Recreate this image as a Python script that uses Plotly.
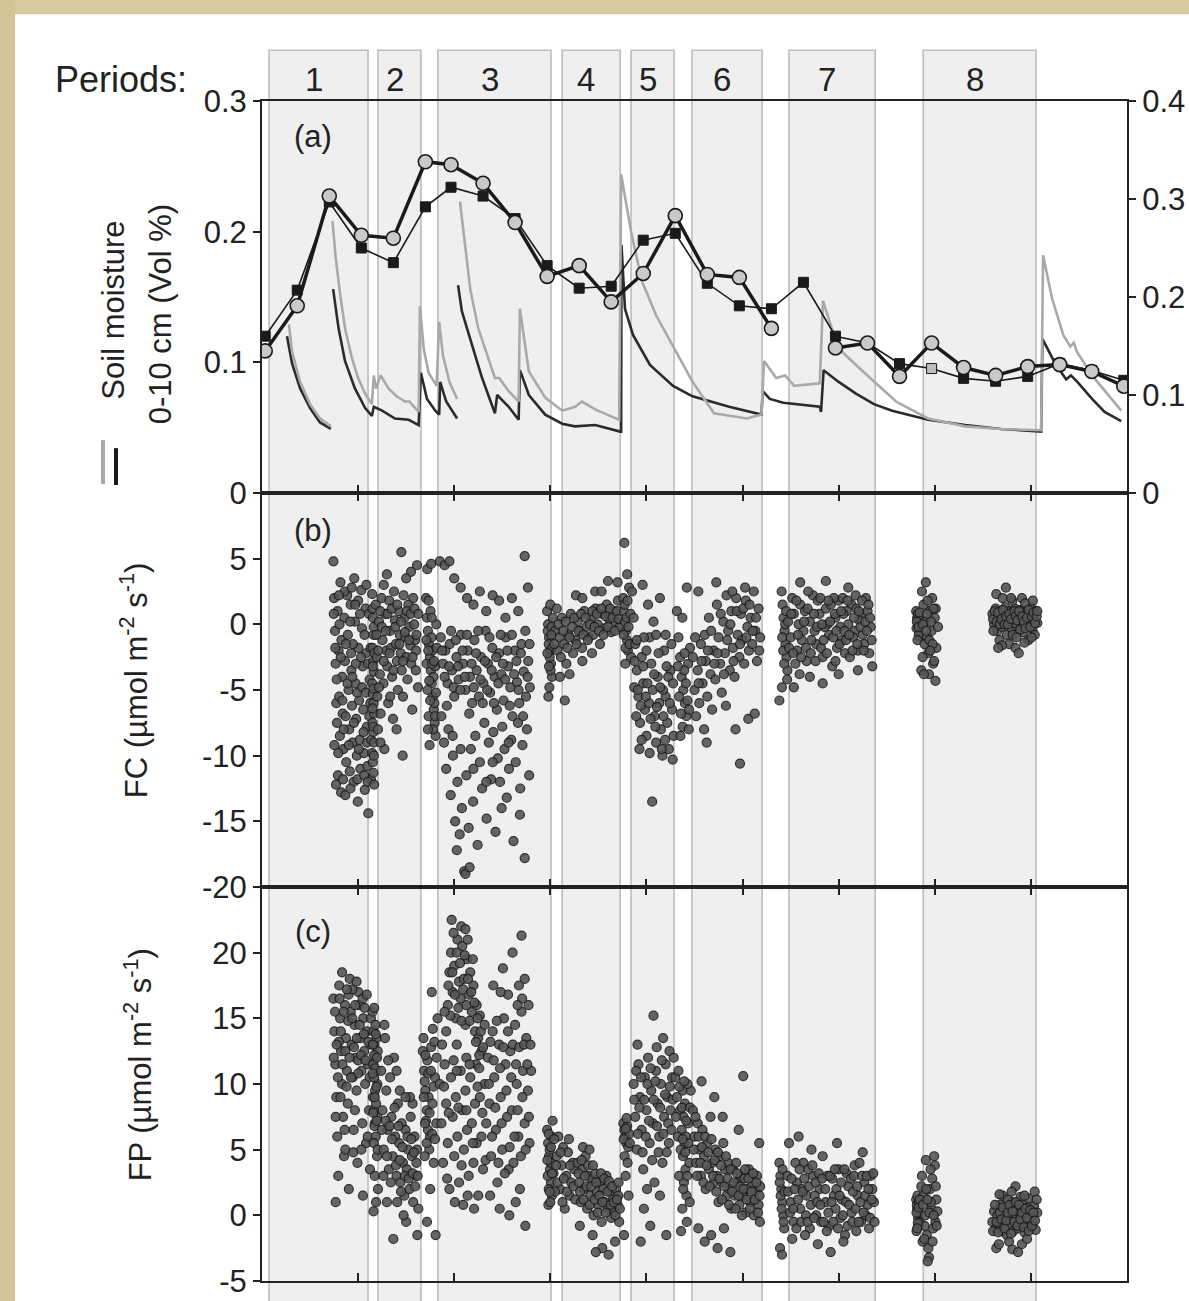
import plotly.graph_objects as go

# ---------------- data ----------------
# x unit: day of the observation season (axis 0-270, ticks every 30 days)
period_names = ["1", "2", "3", "4", "5", "6", "7", "8"]
period_start = [2.2, 36.2, 54.9, 93.7, 115.2, 134.2, 164.5, 206.4]
period_end = [33.1, 49.6, 90.2, 111.8, 128.6, 156.1, 191.4, 241.6]

# (a) soil moisture 0-10 cm, left axis (None = gap in record)
sm_black_day = [7.8, 9.4, 11.9, 15.0, 18.1, 21.5, None,
                22.2, 23.9, 25.9, 29.0, 32.2, 34.3, 34.9, 37.5, 41.5, 45.8, 48.9, 49.6, 51.5, 54.1, 55.3, 55.6, 57.5, 60.9, None,
                61.2, 62.4, 65.6, 68.7, 72.7, 73.4, 77.0, 80.1, 80.5, 83.3, 88.4, 93.7, 97.7, 104.0, 111.8,
                112.1, 112.2, 113.3, 115.8, 121.1, 128.3, 134.4, 145.8, 155.9, 156.3, 158.5, 162.7, 174.1, 174.5,
                175.3, 180.0, 185.4, 191.0, 196.7, 207.9, 219.5, 230.7, 243.2, 243.6, 247.6, 251.0, 252.5, 254.5,
                259.1, 263.0, 268.2]
sm_black_val = [0.120, 0.099, 0.080, 0.065, 0.054, 0.049, None,
                0.156, 0.126, 0.101, 0.080, 0.065, 0.059, 0.066, 0.063, 0.057, 0.056, 0.052, 0.092, 0.072, 0.063, 0.060, 0.085, 0.070, 0.057, None,
                0.159, 0.139, 0.113, 0.088, 0.061, 0.075, 0.066, 0.056, 0.094, 0.075, 0.060, 0.053, 0.051, 0.052, 0.047,
                0.047, 0.190, 0.141, 0.121, 0.098, 0.082, 0.074, 0.066, 0.060, 0.078, 0.072, 0.069, 0.066, 0.062,
                0.094, 0.085, 0.076, 0.068, 0.063, 0.056, 0.052, 0.049, 0.047, 0.118, 0.099, 0.087, 0.090, 0.085,
                0.072, 0.062, 0.055]
sm_gray_day = [8.4, 9.4, 11.9, 15.0, 18.1, 21.5, None,
               22.0, 23.0, 24.5, 26.0, 28.0, 30.0, 32.2, 34.3, 34.9, 35.6, 37.0, 39.5, 42.0, 44.6, 46.0, 48.9, 49.3, 50.5,
               52.0, 54.5, 55.3, 56.5, 58.5, 60.9, None,
               61.8, 63.4, 65.0, 67.5, 71.0, 72.7, 74.0, 77.0, 80.1, 80.5, 83.3, 88.4, 93.7, 97.7, 99.9, 104.0, 111.5,
               112.1, 115.2, 118.6, 123.0, 128.6, 134.4, 141.1, 151.4, 155.9, 156.7, 160.5, 163.3, 166.1, 174.1,
               175.1, 179.8, 185.4, 191.1, 197.9, 207.9, 219.5, 230.7, 243.2, 243.8, 246.6, 250.1, 252.3, 253.4,
               254.4, 259.1, 268.2]
sm_gray_val = [0.129, 0.108, 0.085, 0.068, 0.057, 0.051, None,
               0.208, 0.180, 0.150, 0.125, 0.104, 0.088, 0.076, 0.068, 0.090, 0.080, 0.090, 0.080, 0.074, 0.070, 0.070, 0.062, 0.143, 0.110,
               0.092, 0.082, 0.131, 0.105, 0.085, 0.072, None,
               0.223, 0.190, 0.156, 0.126, 0.100, 0.088, 0.088, 0.078, 0.070, 0.141, 0.093, 0.073, 0.063, 0.066, 0.070, 0.064, 0.056,
               0.244, 0.200, 0.162, 0.136, 0.111, 0.085, 0.061, 0.057, 0.060, 0.101, 0.088, 0.090, 0.082, 0.084,
               0.147, 0.111, 0.098, 0.085, 0.070, 0.057, 0.051, 0.049, 0.048, 0.182, 0.149, 0.121, 0.112, 0.115,
               0.108, 0.090, 0.063]

# (a) 10-day values, right axis
ten_day = [1, 11, 21, 31, 41, 51, 59, 69, 79, 89, 99, 109, 119, 129, 139, 149, 159, 169, 179, 189, 199,
           209, 219, 229, 239, 249, 259, 269]
circle_val = [0.145, 0.191, 0.303, 0.263, 0.260, 0.338, 0.335, 0.316, 0.276, 0.221, 0.232, 0.195, 0.224,
              0.283, 0.223, 0.220, 0.168, None, 0.148, 0.153, 0.119, 0.153, 0.128, 0.120, 0.129, 0.131, 0.124, 0.109]
square_val = [0.160, 0.207, 0.297, 0.250, 0.235, 0.292, 0.312, 0.303, 0.280, 0.232, 0.209, 0.211, 0.258,
              0.265, 0.214, 0.191, 0.188, 0.215, 0.160, 0.153, 0.132, 0.127, 0.117, 0.114, 0.119, 0.132, 0.125, 0.115]
square_open = [False] * 21 + [True] + [False] * 6

# (b) FC  (day, value)
fc_1 = [(22.3, 4.8), (22.5, 2.0), (22.8, -0.5), (23.0, -3.0), (23.2, -6.0), (23.4, -7.5), (23.6, 1.0), (23.9, -2.0),
        (24.1, -5.5), (24.3, -8.5), (24.5, 3.2), (24.8, -1.2), (25.0, -4.0), (25.2, -6.8), (25.4, -9.5), (25.7, 0.5),
        (25.9, -2.8), (26.1, -7.0), (26.3, -10.5), (26.6, 2.2), (26.8, -0.8), (27.0, -5.0), (27.2, -8.0), (27.4, -11.2),
        (27.7, 1.5), (27.9, -3.5), (28.1, -6.2), (28.3, -9.0), (28.6, -12.0), (28.8, 3.5), (29.0, 0.2), (29.2, -4.5),
        (29.4, -7.2), (29.6, -10.0), (29.9, -13.5), (30.1, -1.8), (30.3, -5.8), (30.5, -8.8), (30.7, -11.0), (31.0, 2.6),
        (31.2, -0.3), (31.4, -3.2), (31.6, -6.5), (31.8, -9.8), (32.1, -12.6), (32.3, 1.2), (32.5, -2.2), (32.7, -7.8),
        (32.9, -10.8), (33.2, -14.4), (33.4, 0.8), (33.6, -4.2), (33.8, -6.0), (34.0, -11.8), (22.6, -9.2),
        (23.7, -11.5), (24.7, -12.8), (26.0, -13.0), (28.4, -1.5), (30.0, 1.8)]
fc_1b = [(22.4, 0.8), (22.9, -1.8), (23.3, -4.2), (23.8, -9.8), (24.2, 0.0), (24.6, -2.5), (25.1, -5.8), (25.5, -8.0),
         (25.8, 2.5), (26.2, -1.5), (26.7, -4.5), (27.1, -9.2), (27.5, 0.2), (27.8, -2.2), (28.2, -4.0), (28.7, -7.5),
         (29.1, 1.5), (29.3, -3.0), (29.7, -5.2), (30.2, -9.5), (30.6, 0.8), (30.9, -2.5), (31.3, -4.8), (31.7, -8.2),
         (32.0, -0.8), (32.4, -5.2), (32.8, -9.0), (33.1, -3.0), (33.5, -7.0), (33.9, -1.8), (34.1, -8.8),
         (23.1, -12.2), (25.3, -11.8), (27.6, -12.5), (29.8, -11.8), (31.9, -11.5), (33.0, -12.0), (24.0, 2.2),
         (28.0, 2.8), (32.6, 3.0)]
fc_2 = [(34.4, 2.3), (34.6, 0.5), (34.8, -0.8), (34.5, -1.8), (34.7, -2.8), (34.9, -3.6), (34.4, -4.5), (34.6, -5.3),
        (34.8, -6.0), (35.0, -6.8), (34.5, -7.5), (34.7, -8.2), (34.9, -9.0), (34.4, -9.8), (34.6, -10.5), (34.8, -11.3),
        (35.0, -12.2), (34.5, 1.2), (34.9, -0.2), (34.6, -3.2), (34.8, -4.9), (34.5, -6.4), (34.7, -7.8), (34.9, -10.0),
        (35.1, -2.2)]
fc_3 = [(35.5, 1.5), (35.8, -2.5), (36.0, -5.5), (36.2, -8.0), (36.5, 0.2), (36.8, -3.8), (37.0, -6.8), (37.3, 2.0),
        (37.6, -1.2), (37.9, -4.5), (38.2, -9.5), (38.5, 0.8), (38.8, -2.0), (39.1, -3.2), (39.4, -6.0), (39.7, 1.8),
        (40.0, -0.5), (40.3, -1.8), (40.6, -4.0), (40.9, -7.2), (41.2, 2.5), (41.5, 0.3), (41.8, -1.5), (42.1, -2.8),
        (42.4, -5.0), (42.7, 1.0), (43.0, -0.8), (43.3, -2.2), (43.6, -3.5), (43.9, -10.0), (44.2, 2.2), (44.5, 0.5),
        (44.8, -1.0), (45.1, -2.5), (45.4, -4.2), (45.7, 1.5), (46.0, -0.2), (46.3, -1.6), (46.6, -3.0), (46.9, -6.5),
        (47.2, 2.0), (47.5, 0.0), (47.8, -1.2), (48.1, -2.0), (48.4, 4.5), (48.7, -4.8), (39.0, 3.8), (43.5, 5.5),
        (46.5, 4.0), (37.0, -9.0)]
fc_3b = [(35.7, -0.8), (36.3, -2.0), (36.9, 1.0), (37.4, -0.2), (38.0, -2.8), (38.6, -0.5), (39.2, 0.8), (39.8, -2.2),
         (40.5, 1.2), (41.0, -3.5), (41.6, -0.2), (42.2, 1.5), (42.9, -1.5), (43.4, 0.2), (44.0, -2.8), (44.6, -0.6),
         (45.2, 1.0), (45.9, -1.2), (46.4, 0.8), (47.0, -2.5), (47.6, 1.2), (48.2, -0.8), (48.8, 0.8), (36.5, -4.8),
         (40.0, -5.5), (44.0, -5.5), (48.0, -3.5), (38.0, 3.0), (45.0, 3.5), (42.0, -8.0)]
fc_4 = [(51.2, 2.0), (51.5, 0.5), (51.8, -0.5), (52.1, -1.5), (52.4, -2.5), (52.7, -3.5), (53.0, -4.5), (53.3, -5.5),
        (53.6, -6.5), (53.9, -7.5), (54.2, -8.5), (51.4, -3.0), (51.7, -5.0), (52.0, -7.0), (52.3, -9.2), (52.6, 1.0),
        (52.9, -1.0), (53.2, -2.0), (53.5, -4.0), (53.8, -6.0), (54.1, -3.2), (54.4, 0.0), (52.2, -4.3), (53.4, -8.0),
        (54.6, -1.8), (51.6, 4.2), (52.8, 4.6), (51.3, -1.2), (51.9, -2.0), (52.5, -5.8), (53.1, -3.0), (53.7, -2.8),
        (54.3, -5.2), (52.0, 1.8), (53.0, 0.5), (54.0, -7.0), (51.8, -8.0)]
fc_5 = [(55.5, 4.8), (57.0, 4.5), (58.5, 4.8), (60.0, 3.5), (62.0, 2.8), (64.0, 2.0), (66.0, 1.5), (68.0, 2.5),
        (70.0, 1.0), (72.0, 2.2), (74.0, 1.8), (76.0, 0.5), (78.0, 2.0), (80.0, 1.0), (82.0, 5.2), (83.0, 2.8),
        (55.8, -1.0), (56.5, -3.0), (57.2, -2.0), (57.9, -4.5), (58.6, -1.5), (59.3, -3.5), (60.0, -5.5), (60.7, -2.5),
        (61.4, -4.2), (62.1, -0.8), (62.8, -3.0), (63.5, -5.0), (64.2, -2.0), (64.9, -4.0), (65.6, -6.0), (66.3, -1.2),
        (67.0, -3.5), (67.7, -5.5), (68.4, -2.5), (69.1, -4.5), (69.8, -0.5), (70.5, -3.0), (71.2, -5.2), (71.9, -1.8),
        (72.6, -4.0), (73.3, -6.5), (74.0, -2.2), (74.7, -3.8), (75.4, -5.8), (76.1, -1.0), (76.8, -3.2), (77.5, -4.8),
        (78.2, -7.0), (78.9, -2.0), (79.6, -4.4), (80.3, -6.0), (81.0, -1.5), (81.7, -3.6), (82.4, -5.5), (83.1, -2.8),
        (83.6, -4.8), (56.0, -7.0), (56.8, -9.0), (57.5, -11.0), (58.2, -8.0), (58.9, -13.0), (59.6, -10.0),
        (60.3, -15.0), (61.0, -12.0), (61.7, -16.0), (62.4, -14.0), (63.1, -18.8), (63.8, -11.5), (64.5, -15.5),
        (65.2, -9.5), (65.9, -13.5), (66.6, -8.5), (67.3, -16.8), (68.0, -10.5), (68.7, -12.5), (69.4, -7.5),
        (70.1, -14.8), (70.8, -9.0), (71.5, -11.8), (72.2, -8.2), (72.9, -15.8), (73.6, -10.2), (74.3, -12.0),
        (75.0, -7.8), (75.7, -9.5), (76.4, -13.2), (77.1, -11.0), (77.8, -8.8), (78.5, -16.5), (79.2, -10.5),
        (79.9, -7.5), (80.6, -12.5), (81.3, -9.2), (82.0, -17.8), (82.7, -8.0), (83.4, -11.5), (63.5, -19.0),
        (64.8, -18.5), (60.8, -17.2)]
fc_5b = [(56.2, -2.0), (57.0, -4.0), (57.7, -6.2), (58.4, -3.2), (59.0, -0.5), (59.8, -4.8), (60.5, -1.2), (61.2, -3.2),
         (61.9, -5.0), (62.6, -2.0), (63.3, -4.0), (64.0, -0.8), (64.7, -6.8), (65.4, -3.0), (66.1, -4.8), (66.8, -2.2),
         (67.5, -0.5), (68.2, -4.2), (68.9, -6.0), (69.6, -2.8), (70.3, -5.0), (71.0, -1.0), (71.7, -3.5), (72.4, -6.0),
         (73.1, -2.5), (73.8, -4.5), (74.5, -0.8), (75.2, -3.0), (75.9, -4.2), (76.6, -2.0), (77.3, -6.2), (78.0, -0.8),
         (78.7, -3.8), (79.4, -2.8), (80.1, -5.0), (80.8, -2.2), (81.5, -7.0), (82.2, -0.5), (82.9, -4.0), (83.5, -1.5),
         (59.5, -8.5), (62.0, -9.5), (66.0, -11.0), (70.0, -12.0), (74.8, -14.0), (80.5, -14.5), (77.0, -9.0),
         (72.0, -10.5)]
fc_6 = [(89.0, 1.0), (89.3, 0.0), (89.6, -1.0), (89.9, -2.0), (90.2, -3.0), (90.5, -4.0), (89.2, -0.5), (89.5, -1.5),
        (89.8, -2.5), (90.1, -3.5), (90.4, -0.2), (89.7, -4.8), (90.0, 1.5), (90.6, -1.8), (89.4, -5.5),
        (91.5, -0.5), (92.2, -2.0), (92.9, -1.0), (93.6, 0.5), (94.3, -1.5), (95.0, -3.0), (95.7, -0.8), (96.4, 0.8),
        (97.1, -2.2), (97.8, -1.2), (98.5, 0.2), (99.2, -0.5), (99.9, -1.8), (100.6, 1.0), (101.3, -0.2), (102.0, -1.0),
        (102.7, 0.5), (103.4, -0.8), (104.1, 1.2), (104.8, 0.0), (105.5, -1.5), (106.2, 0.8), (106.9, -0.3),
        (107.6, 1.5), (108.3, 0.4), (109.0, -0.6), (109.7, 1.0), (110.4, 0.2), (111.1, 1.8), (111.6, -0.2),
        (93.0, -4.0), (96.0, -3.8), (100.0, -2.8), (104.0, 2.5), (108.0, 3.3), (92.0, 1.2), (98.0, 2.2), (94.5, -5.8),
        (111.0, 3.2), (103.0, -2.2)]
fc_6b = [(89.1, -2.2), (89.6, -3.2), (90.3, -0.8), (90.8, 0.5), (91.2, -1.5), (92.5, 0.0), (93.3, -2.5), (94.0, -0.5),
         (94.8, 0.2), (95.3, -1.8), (96.0, -1.0), (96.8, -0.2), (97.5, 0.5), (98.2, -1.5), (98.8, -0.5), (99.6, 0.8),
         (100.3, -0.8), (101.0, 0.5), (101.7, -1.2), (102.4, 0.0), (103.1, 1.0), (103.8, -0.2), (104.5, 0.8),
         (105.2, -0.5), (105.9, 1.2), (106.6, -0.8), (107.3, 0.6), (108.0, -0.2), (108.7, 1.2), (109.4, 0.5),
         (110.1, -0.5), (110.8, 1.0), (111.4, 0.4), (106.0, 2.5), (100.0, 2.0)]
fc_7 = [(112.8, 2.0), (113.0, 1.0), (113.3, 0.2), (113.6, -0.5), (113.9, -1.2), (114.2, -2.0), (112.9, -0.8),
        (113.2, 1.5), (113.5, -1.8), (113.8, 0.5), (114.1, 1.8), (114.4, -0.2), (114.7, -1.5), (115.0, 0.8),
        (113.1, 6.2), (114.0, 3.8), (114.6, 2.8), (113.4, -3.0), (115.2, -2.5)]
fc_8 = [(115.5, 2.5), (116.0, 0.5), (116.5, -1.5), (117.0, -3.5), (117.5, -5.5), (118.0, -7.5), (118.5, -2.5),
        (119.0, -4.5), (119.5, -6.5), (120.0, -8.5), (120.5, 1.5), (121.0, -1.0), (121.5, -3.0), (122.0, -5.0),
        (122.5, -7.0), (123.0, -9.0), (123.5, -4.0), (124.0, -6.0), (124.5, -8.0), (125.0, -10.0), (125.5, -2.0),
        (126.0, -5.5), (126.5, -7.5), (127.0, -9.5), (127.5, -3.5), (128.0, -6.5), (128.5, -8.5), (116.2, -4.8),
        (117.8, -9.5), (119.2, -1.0), (120.8, -6.0), (122.2, 0.2), (123.8, -2.2), (125.2, -5.0), (126.8, -4.0),
        (128.2, -10.3), (118.8, 3.0), (124.2, 2.0), (121.8, -13.5), (116.8, -7.0), (119.8, -5.5), (122.8, -7.8),
        (125.8, -8.8), (127.8, -1.5)]
fc_8b = [(116.3, -2.8), (117.3, -5.0), (118.2, -6.2), (119.0, -3.2), (120.3, -4.5), (121.3, -7.2), (122.4, -3.8),
         (123.3, -6.3), (124.3, -4.8), (125.3, -7.0), (126.3, -3.2), (127.3, -6.0), (128.3, -4.5), (117.0, -1.2),
         (120.0, -2.0), (123.0, -0.8), (126.0, -0.8), (121.0, -9.8), (124.8, -9.5), (118.5, -8.8)]
fc_9 = [(129.5, 1.0), (130.0, -1.0), (130.5, -2.5), (131.0, -4.0), (131.5, -5.0), (132.0, -6.0), (132.5, -7.0),
        (133.0, -3.0), (130.2, -5.5), (130.8, -6.8), (131.3, -7.8), (131.8, -3.5), (132.3, -4.5), (132.8, -5.8),
        (133.3, -6.5), (129.8, -3.2), (131.2, 0.5), (132.6, 2.8), (133.6, -1.8), (130.6, -8.5), (131.9, -2.2),
        (133.2, -8.0)]
fc_10 = [(134.5, -2.5), (135.0, -5.0), (135.5, -7.0), (136.0, -3.5), (136.5, -6.0), (137.0, -1.5), (137.5, -4.5),
         (138.0, -8.0), (138.5, -2.8), (139.0, -5.5), (139.5, 0.5), (140.0, -3.8), (140.5, -6.5), (141.0, -2.0),
         (141.5, -4.2), (142.0, 1.5), (142.5, -1.0), (143.0, -3.0), (143.5, -5.2), (144.0, 0.2), (144.5, -2.2),
         (145.0, 2.2), (145.5, -0.5), (146.0, -3.5), (146.5, 1.0), (147.0, -1.8), (147.5, -4.0), (148.0, 2.0),
         (148.5, -0.8), (149.0, -2.5), (149.5, 0.8), (150.0, -1.2), (150.5, -3.0), (151.0, 1.8), (151.5, -0.2),
         (152.0, -2.0), (152.5, 0.5), (153.0, -1.5), (153.5, 2.5), (154.0, -0.5), (154.5, -2.8), (155.0, 1.2),
         (155.5, -1.0), (136.2, 2.5), (141.8, 3.2), (147.8, -8.0), (149.2, -10.6), (138.8, -9.0), (144.8, -6.2),
         (151.8, -7.2), (153.8, -6.8)]
fc_10b = [(135.2, -1.0), (136.3, -4.5), (137.2, -2.8), (138.2, -0.8), (139.2, -2.0), (140.2, -0.5), (141.2, -3.0),
          (142.2, -2.2), (143.2, 0.8), (144.2, -3.8), (145.2, -1.2), (146.2, 0.0), (147.2, -2.8), (148.2, 1.0),
          (149.2, -1.5), (150.2, 1.2), (151.2, -1.0), (152.2, 1.5), (153.2, -0.5), (154.2, 0.5), (155.2, -2.0),
          (150.8, 2.8), (146.8, 2.5)]
fc_11 = [(162.2, 2.5), (162.5, 1.5), (162.8, 0.5), (163.1, -0.5), (163.4, -1.5), (163.7, -2.5), (164.0, -3.5),
         (162.4, -1.0), (162.7, -2.0), (163.0, -3.0), (163.3, 0.0), (163.6, 1.0), (163.9, -4.2), (162.3, -4.8),
         (164.2, 0.2), (165.0, -1.0), (166.0, 0.8), (167.0, -2.0), (168.0, 1.5), (169.0, -0.5), (170.0, -2.8),
         (171.0, 0.2), (172.0, 2.2), (173.0, -1.5), (174.0, 0.8), (175.0, -2.5), (176.0, 1.2), (177.0, -0.8),
         (178.0, -3.2), (179.0, 0.5), (180.0, 1.8), (181.0, -1.2), (182.0, -2.2), (183.0, 0.0), (184.0, 1.5),
         (185.0, -0.5), (186.0, -2.0), (187.0, 0.8), (188.0, -1.5), (189.0, 1.0), (190.0, -0.2), (166.5, -3.0),
         (168.5, -1.2), (170.5, 2.5), (172.5, -0.5), (174.5, -1.8), (176.5, 0.0), (178.5, 2.0), (180.5, -0.2),
         (182.5, 1.0), (184.5, -1.0), (186.5, 0.3), (188.5, 2.0), (165.5, 2.0), (167.5, 0.0), (169.5, 1.0),
         (171.5, -1.2), (173.5, 1.8), (175.5, -0.2), (177.5, 1.5), (179.5, -1.8), (181.5, 0.8), (183.5, -2.5),
         (185.5, 1.2), (187.5, -0.8), (189.5, -2.2), (171.0, -4.0), (175.0, -4.5), (180.0, -3.8), (186.0, -3.5),
         (168.0, 3.2), (176.0, 3.3), (190.5, -3.2), (161.5, -5.8), (166.0, -4.8)]
fc_11b = [(164.5, -1.8), (165.2, 0.8), (165.8, -2.2), (166.8, 1.8), (167.3, -0.8), (168.3, -2.5), (169.2, 0.2),
          (169.8, -1.8), (170.3, 1.2), (171.3, -2.2), (172.3, 0.8), (172.8, -2.8), (173.3, -0.2), (174.3, 2.0),
          (174.8, 0.0), (175.3, -1.2), (176.3, -2.2), (176.8, 1.8), (177.3, 0.2), (178.3, -1.0), (178.8, 0.8),
          (179.3, -0.5), (180.3, -1.5), (180.8, 1.0), (181.3, 2.0), (181.8, -0.5), (182.3, -1.2), (182.8, 1.8),
          (183.3, -0.8), (184.3, -2.0), (184.8, 0.5), (185.3, 2.2), (185.8, -1.5), (186.3, 1.0), (186.8, -0.2),
          (187.3, 1.8), (187.8, -2.0), (188.3, 0.2), (188.8, -0.5), (189.3, 1.5), (189.8, 0.5), (190.3, -1.2),
          (167.8, -3.8), (179.0, -2.8), (183.0, 2.8)]
fc_12 = [(204.2, 1.0), (204.5, 0.5), (204.8, 0.0), (205.1, -0.5), (205.4, -1.0), (204.3, -0.3), (204.7, 0.8),
         (205.0, -0.8), (205.3, 0.3), (204.6, -1.2), (206.0, 2.5), (206.5, 1.5), (207.0, 0.2), (207.5, -1.0),
         (208.0, -2.2), (208.5, 1.0), (209.0, -0.5), (209.5, -3.0), (210.0, 0.5), (210.5, -1.8), (206.2, -2.5),
         (207.2, 3.2), (208.2, -3.8), (209.2, 2.0), (210.2, -4.3), (211.0, -0.2), (206.8, -1.5), (208.8, 0.2),
         (207.8, 1.8), (209.8, -2.8), (205.8, -3.5), (204.4, 0.2), (204.9, -0.2), (205.2, 0.9), (206.3, 0.0),
         (207.3, -0.5), (208.3, -1.2), (209.3, -1.5), (210.3, 1.2), (206.6, -3.8), (209.6, 1.2), (207.6, 0.8),
         (208.6, -2.0)]
fc_13 = [(228.0, 0.8), (228.5, 0.0), (229.0, 1.2), (229.5, -0.5), (230.0, 0.5), (230.5, 1.0), (231.0, -0.2),
         (231.5, 0.7), (232.0, 1.3), (232.5, -0.8), (233.0, 0.3), (233.5, 1.0), (234.0, -0.3), (234.5, 0.6),
         (235.0, 1.2), (235.5, -0.1), (236.0, 0.8), (236.5, 0.2), (237.0, 1.1), (237.5, -0.6), (238.0, 0.5),
         (238.5, 1.0), (239.0, 0.0), (239.5, 0.7), (240.0, 1.3), (240.5, -0.4), (241.0, 0.4), (241.5, 1.0),
         (242.0, 0.1), (229.2, 2.3), (231.2, 2.0), (233.2, -1.5), (235.2, -1.8), (237.2, 2.0), (239.2, -1.2),
         (241.2, -0.8), (230.2, -1.2), (234.2, 1.8), (236.2, -2.2), (238.2, 1.6), (232.2, 2.8), (240.2, -1.0),
         (228.3, -0.5), (236.8, 0.9), (234.8, 0.1)]
fc_13b = [(228.2, 0.4), (228.7, 1.0), (229.3, 0.2), (229.8, 0.9), (230.3, 0.0), (230.8, 0.4), (231.3, 1.1),
          (231.8, 0.0), (232.3, 0.6), (232.8, 0.0), (233.3, 0.8), (233.8, 0.4), (234.3, -0.8), (234.9, 1.0),
          (235.3, 0.6), (235.8, 0.3), (236.3, 1.0), (236.7, -0.4), (237.3, 0.6), (237.8, 0.2), (238.3, -0.3),
          (238.8, 0.5), (239.3, 1.1), (239.8, -0.2), (240.3, 0.6), (240.8, 0.9), (241.3, 0.1), (241.8, 0.6),
          (231.0, -1.6), (238.0, -1.4), (233.8, 2.0), (229.8, -1.8), (240.6, 1.8), (235.5, -1.0), (242.0, 1.0)]

# (c) FP  (day, value)
fp_1 = [(22.3, 16.5), (22.6, 14.0), (22.9, 11.5), (23.2, 9.0), (23.5, 6.0), (23.8, 3.0), (24.1, 17.5), (24.4, 15.0),
        (24.7, 12.5), (25.0, 10.0), (25.3, 7.5), (25.6, 4.5), (25.9, 16.0), (26.2, 13.5), (26.5, 11.0), (26.8, 8.5),
        (27.1, 2.0), (27.4, 18.0), (27.7, 15.5), (28.0, 13.0), (28.3, 10.5), (28.6, 6.5), (28.9, 14.5), (29.2, 12.0),
        (29.5, 9.5), (29.8, 4.0), (30.1, 17.0), (30.4, 16.0), (30.7, 13.5), (31.0, 11.0), (31.3, 7.0), (31.6, 15.0),
        (31.9, 12.5), (32.2, 10.0), (32.5, 5.5), (32.8, 14.0), (33.1, 11.5), (33.4, 8.0), (33.7, 3.5), (34.0, 13.0),
        (23.0, 1.0), (26.0, 5.0), (29.0, 8.0), (31.5, 1.5), (25.0, 18.5), (27.0, 16.8), (24.0, 13.2), (28.2, 17.2),
        (30.0, 10.8), (32.0, 15.8)]
fp_1b = [(22.4, 12.0), (22.8, 15.5), (23.3, 13.0), (23.7, 10.5), (24.2, 16.5), (24.6, 14.0), (25.1, 11.5),
         (25.5, 15.5), (26.0, 12.5), (26.4, 9.8), (26.9, 14.8), (27.3, 12.0), (27.8, 10.5), (28.2, 15.0), (28.7, 12.8),
         (29.1, 16.0), (29.6, 13.5), (30.0, 11.8), (30.5, 14.5), (30.9, 12.2), (31.4, 16.5), (31.8, 13.8), (32.3, 11.8),
         (32.7, 16.8), (33.2, 13.2), (33.6, 10.5), (34.0, 15.0), (23.0, 7.5), (25.8, 6.5), (28.5, 4.8), (31.0, 5.0),
         (33.0, 6.0), (26.5, 17.2), (29.5, 17.8), (24.5, 9.0)]
fp_2 = [(34.5, 15.5), (34.8, 14.0), (35.1, 13.0), (35.4, 12.0), (35.7, 11.0), (36.0, 10.0), (34.6, 9.0), (34.9, 8.0),
        (35.2, 7.0), (35.5, 6.0), (35.8, 13.5), (36.1, 12.5), (34.7, 11.5), (35.0, 10.5), (35.3, 9.5), (35.6, 8.5),
        (35.9, 4.5), (36.2, 2.0), (34.8, 0.3), (35.4, 14.5), (36.0, 7.5), (35.2, 3.0), (34.6, 13.0), (35.0, 12.2),
        (35.3, 11.2), (35.7, 9.8), (34.7, 7.8), (35.1, 6.8), (35.5, 13.8), (35.9, 12.0), (34.6, 10.8), (35.2, 9.0),
        (35.8, 7.2), (34.9, 5.5), (35.6, 1.0), (36.1, 5.0), (35.0, 15.8)]
fp_3 = [(37.2, 11.0), (37.6, 8.0), (38.0, 5.0), (38.4, 13.5), (38.8, 9.5), (39.2, 6.5), (39.6, 3.5), (40.0, 10.5),
        (40.4, 7.5), (40.8, 4.5), (41.2, 12.0), (41.6, 6.0), (42.0, 3.0), (42.4, 8.5), (42.8, 5.5), (43.2, 2.5),
        (43.6, 7.0), (44.0, 4.0), (44.4, 1.5), (44.8, 6.5), (45.2, 3.5), (45.6, 5.0), (46.0, 2.0), (46.4, 7.5),
        (46.8, 4.5), (47.2, 1.0), (47.6, 6.0), (48.0, 3.0), (48.4, 5.0), (48.8, 0.5), (41.0, -1.8), (45.0, -0.5),
        (48.5, -1.5), (39.0, 1.0), (43.0, 9.5), (47.0, 8.5), (38.2, 14.5), (44.2, 0.0), (46.2, 9.0), (42.2, 1.0)]
fp_3b = [(37.4, 6.5), (37.9, 3.0), (38.6, 7.2), (39.0, 4.5), (39.8, 6.8), (40.2, 2.5), (40.6, 5.8), (41.4, 8.2),
         (41.8, 3.8), (42.6, 6.8), (43.0, 4.2), (43.4, 1.8), (43.8, 5.2), (44.6, 3.0), (45.4, 6.0), (45.8, 2.8),
         (46.6, 5.8), (47.0, 3.2), (47.4, 4.8), (47.8, 2.2), (48.2, 4.0), (48.6, 3.0), (39.4, 11.8), (42.0, 11.0),
         (44.8, 9.0)]
fp_4 = [(50.2, 12.5), (50.6, 11.0), (51.0, 9.5), (51.4, 8.0), (51.8, 6.5), (52.2, 5.0), (50.4, 13.5), (50.8, 10.2),
        (51.2, 7.2), (51.6, 11.8), (52.0, 9.0), (52.4, 6.0), (52.8, 12.8), (53.2, 8.5), (53.6, 4.0), (54.0, 10.5),
        (54.4, 7.0), (54.8, 15.0), (53.0, 17.0), (52.5, 2.0), (51.5, -0.5), (54.2, -1.5), (50.8, 4.5), (53.8, 13.2),
        (50.5, 9.0), (51.0, 12.2), (51.4, 5.5), (51.9, 10.8), (52.3, 7.8), (52.7, 11.0), (53.1, 6.2), (53.5, 9.8),
        (54.0, 5.8), (54.5, 12.0), (50.9, 7.0), (53.3, 14.2)]
fp_5 = [(58.0, 16.0), (58.5, 18.5), (59.0, 20.0), (59.5, 17.0), (60.0, 19.0), (60.5, 15.0), (61.0, 21.0),
        (61.5, 17.8), (62.0, 16.5), (62.5, 20.5), (63.0, 18.0), (63.5, 14.5), (64.0, 19.5), (64.5, 16.8), (65.0, 18.5),
        (65.5, 15.5), (66.0, 17.5), (66.5, 14.0), (67.0, 16.0), (67.5, 13.5), (68.0, 15.2), (68.5, 12.5), (59.2, 22.5),
        (62.2, 22.0), (64.2, 21.0), (60.8, 13.0), (63.8, 12.0), (66.8, 11.5), (57.5, 14.0),
        (55.5, 10.0), (56.0, 7.0), (56.5, 4.0), (57.0, 11.5), (57.5, 8.5), (58.0, 5.5), (58.5, 2.0), (59.0, 10.5),
        (59.5, 7.5), (60.0, 4.5), (60.5, 9.0), (61.0, 6.0), (61.5, 2.5), (62.0, 11.0), (62.5, 8.0), (63.0, 5.0),
        (63.5, 9.5), (64.0, 6.5), (64.5, 3.0), (65.0, 10.5), (65.5, 7.0), (66.0, 4.0), (66.5, 8.5), (67.0, 5.5),
        (67.5, 1.5), (68.0, 9.0), (68.5, 6.0), (69.0, 3.5), (69.5, 10.0), (70.0, 7.0), (56.2, 13.0), (62.8, 0.8),
        (66.2, 0.5), (60.2, 1.0)]
fp_5b = [(58.2, 17.5), (58.8, 15.2), (59.4, 18.5), (60.2, 16.8), (60.8, 20.0), (61.3, 15.8), (61.8, 19.2),
         (62.3, 14.8), (62.8, 17.2), (63.3, 19.8), (63.8, 16.0), (64.3, 18.0), (64.8, 14.8), (65.3, 17.0), (65.8, 19.5),
         (66.3, 16.2), (66.8, 13.2), (67.3, 15.0), (67.8, 12.2), (68.3, 14.0), (69.0, 12.8), (69.5, 14.5),
         (59.8, 21.5), (63.5, 21.8), (57.0, 15.5), (56.8, 9.8), (58.3, 7.8), (59.8, 11.8), (61.3, 8.2), (62.3, 3.8),
         (63.8, 8.0), (64.8, 11.5), (65.8, 5.5), (67.3, 9.8), (68.8, 7.8), (69.8, 4.2), (57.8, 2.8), (64.2, 1.5),
         (60.8, 11.0), (67.8, 11.2)]
fp_6 = [(70.5, 12.0), (71.0, 8.5), (71.5, 4.5), (72.0, 14.0), (72.5, 10.5), (73.0, 6.5), (73.5, 2.5), (74.0, 13.0),
        (74.5, 9.0), (75.0, 5.0), (75.5, 15.0), (76.0, 11.5), (76.5, 7.5), (77.0, 3.5), (77.5, 12.5), (78.0, 8.0),
        (78.5, 4.0), (79.0, 14.5), (79.5, 10.0), (80.0, 6.0), (80.5, 2.0), (81.0, 15.5), (81.5, 11.0), (82.0, 7.0),
        (82.5, 13.5), (83.0, 9.5), (83.5, 5.5), (84.0, 11.0), (72.2, 17.5), (75.2, 18.8), (78.2, 20.0), (81.2, 16.5),
        (83.2, 16.0), (74.2, 0.5), (79.2, 1.0), (82.2, -0.8), (81.0, 21.3), (71.2, 1.5), (80.2, 17.5), (77.2, 0.0)]
fp_6b = [(70.8, 10.0), (71.3, 13.2), (71.8, 6.0), (72.3, 11.8), (72.8, 8.2), (73.3, 14.8), (73.8, 4.0), (74.3, 11.2),
         (74.8, 7.0), (75.3, 12.8), (75.8, 3.2), (76.3, 9.5), (76.8, 14.0), (77.3, 5.2), (77.8, 10.5), (78.3, 13.0),
         (78.8, 6.0), (79.3, 11.5), (79.8, 8.0), (80.3, 12.8), (80.8, 4.5), (81.3, 9.0), (81.8, 13.0), (82.3, 5.0),
         (82.8, 11.5), (83.3, 7.5), (83.8, 13.0), (76.8, 16.8), (79.8, 16.0), (74.5, 17.0), (82.0, 18.0)]
fp_7 = [(89.0, 6.5), (89.3, 5.5), (89.6, 4.5), (89.9, 3.5), (90.2, 2.5), (90.5, 1.5), (89.2, 3.0), (89.5, 2.0),
        (89.8, 5.0), (90.1, 4.0), (90.4, 6.0), (89.4, 0.8), (90.0, 1.0), (91.0, 3.2), (92.0, 4.5), (93.0, 2.0),
        (94.0, 5.2), (95.0, 3.0), (96.0, 1.5), (97.0, 4.0), (92.5, 6.0), (94.5, 0.5), (96.5, 2.5), (91.5, 1.8),
        (97.5, 3.5), (90.7, 7.2), (95.5, 4.8), (93.5, 3.8), (89.1, 4.2), (89.5, 6.2), (89.8, 1.8), (90.2, 5.2),
        (90.5, 3.2), (91.2, 5.8), (92.2, 2.5), (93.2, 4.8), (94.2, 2.8), (95.2, 1.8), (96.2, 3.8), (97.2, 2.2),
        (91.8, 3.8), (93.8, 1.0), (95.8, 5.8), (97.8, 1.2)]
fp_8 = [(98.5, 4.0), (99.0, 2.5), (99.5, 1.0), (100.0, 3.5), (100.5, 2.0), (101.0, 4.5), (101.5, 0.5), (102.0, 3.0),
        (102.5, 1.5), (103.0, 2.8), (103.5, 0.0), (104.0, 3.2), (104.5, 1.8), (105.0, 0.8), (105.5, 2.5),
        (106.0, -0.5), (106.5, 2.0), (107.0, 1.0), (107.5, 3.0), (108.0, 0.5), (108.5, 1.8), (109.0, -0.2),
        (109.5, 1.2), (110.0, 0.3), (110.5, 2.0), (111.0, 0.8), (111.5, -0.5), (100.2, 5.2), (103.2, -1.5),
        (106.2, -2.5), (108.2, -3.0), (110.2, -2.0), (104.2, -2.8), (102.2, 5.0), (111.2, 1.5), (99.2, -0.8)]
fp_8b = [(98.8, 3.2), (99.3, 1.8), (99.8, 4.2), (100.3, 1.2), (100.8, 3.0), (101.3, 2.2), (101.8, 3.8), (102.3, 0.8),
         (102.8, 2.2), (103.3, 3.8), (103.8, 1.2), (104.3, 2.5), (104.8, 0.2), (105.3, 1.5), (105.8, 3.2),
         (106.3, 1.0), (106.8, 2.8), (107.3, 0.2), (107.8, 1.8), (108.3, 2.6), (108.8, 0.8), (109.3, 2.2),
         (109.8, 1.0), (110.3, 0.0), (110.8, 1.2), (111.3, 2.5), (111.7, 0.5)]
fp_9 = [(112.8, 7.0), (113.1, 6.5), (113.4, 6.0), (113.7, 5.5), (114.0, 6.8), (114.3, 5.2), (114.6, 6.2),
        (112.9, 5.8), (113.2, 4.5), (113.5, 3.0), (113.8, 7.4), (114.1, 4.0), (114.4, 1.5), (113.0, -1.5),
        (114.8, 5.5), (113.6, 6.6)]
fp_10 = [(116.0, 10.0), (116.5, 7.5), (117.0, 5.0), (117.5, 11.5), (118.0, 9.0), (118.5, 6.5), (119.0, 3.5),
         (119.5, 10.5), (120.0, 8.0), (120.5, 12.0), (121.0, 5.5), (121.5, 9.5), (122.0, 7.0), (122.5, 2.5),
         (123.0, 11.0), (123.5, 8.5), (124.0, 6.0), (124.5, 10.0), (125.0, 4.0), (125.5, 7.5), (126.0, 11.5),
         (126.5, 9.0), (127.0, 5.5), (127.5, 8.0), (128.0, 10.5), (119.2, 0.5), (121.2, -0.8), (124.2, 1.5),
         (126.2, -1.5), (117.2, 13.0), (122.2, 15.2), (123.2, 12.8), (125.2, 13.5), (127.2, 12.5), (120.2, 2.0),
         (118.2, -2.0)]
fp_10b = [(116.2, 8.8), (116.8, 11.0), (117.3, 6.2), (117.8, 8.2), (118.3, 10.5), (118.8, 4.8), (119.3, 8.8),
          (119.8, 6.0), (120.3, 10.0), (120.8, 7.2), (121.3, 11.2), (121.8, 4.2), (122.3, 8.8), (122.8, 10.2),
          (123.3, 6.8), (123.8, 4.8), (124.3, 8.2), (124.8, 11.8), (125.3, 6.2), (125.8, 9.2), (126.3, 4.8),
          (126.8, 7.0), (127.3, 9.8), (127.8, 6.5), (128.2, 8.8)]
fp_11 = [(128.5, 12.0), (129.0, 10.5), (129.5, 9.0), (130.0, 11.0), (130.5, 8.0), (131.0, 6.5), (131.3, 9.5),
         (131.6, 7.5), (131.9, 5.5), (132.2, 3.5), (132.5, 1.5), (131.4, 4.5), (131.7, 2.5), (132.0, 8.5),
         (132.3, 6.0), (132.6, -0.5), (131.2, 0.5), (133.0, 7.0), (133.4, 4.0), (133.8, 9.5), (130.2, 3.0),
         (129.8, 6.0), (132.8, 10.0), (133.5, 1.0), (130.8, -1.2), (129.2, 7.5), (130.3, 9.8), (130.7, 5.0),
         (131.1, 8.2), (131.5, 2.0), (131.8, 10.2), (132.1, 4.8), (132.4, 7.2), (132.7, 3.0), (133.1, 5.5),
         (133.6, 8.2), (131.3, 5.8)]
fp_12 = [(134.5, 8.0), (135.0, 6.0), (135.5, 4.0), (136.0, 7.0), (136.5, 5.0), (137.0, 3.0), (137.5, 6.5),
         (138.0, 4.5), (138.5, 2.0), (139.0, 5.5), (139.5, 3.5), (140.0, 7.5), (140.5, 4.0), (141.0, 2.5),
         (141.5, 5.0), (142.0, 3.0), (142.5, 1.0), (143.0, 4.5), (143.5, 2.5), (144.0, 5.5), (144.5, 3.5),
         (145.0, 1.5), (145.5, 4.0), (146.0, 2.0), (146.5, 0.5), (147.0, 3.5), (147.5, 1.5), (148.0, 4.0),
         (148.5, 2.5), (149.0, 0.8), (149.5, 3.0), (150.0, 1.5), (150.5, 2.8), (151.0, 0.2), (151.5, 2.0),
         (152.0, 3.5), (152.5, 1.0), (153.0, 2.5), (153.5, 0.0), (154.0, 1.8), (154.5, 3.0), (155.0, 0.8),
         (155.5, 2.2), (136.2, -1.0), (138.2, -2.0), (140.2, -1.5), (142.2, -2.5), (144.2, -1.0), (146.2, -2.8),
         (143.8, 7.5), (148.8, 6.5), (150.2, 10.6), (155.2, 5.5), (141.2, 9.0), (137.2, 10.2), (155.4, -0.5)]
fp_12b = [(134.8, 5.0), (135.3, 7.5), (135.8, 3.0), (136.3, 6.0), (136.8, 4.0), (137.3, 5.2), (137.8, 2.5),
          (138.3, 6.0), (138.8, 3.8), (139.3, 4.8), (139.8, 2.2), (140.3, 5.8), (140.8, 3.0), (141.3, 4.2),
          (141.8, 1.8), (142.3, 4.8), (142.8, 2.8), (143.3, 3.8), (143.6, 1.2), (144.3, 2.2), (144.8, 4.5),
          (145.3, 2.8), (145.8, 0.8), (146.3, 3.5), (146.8, 1.8), (147.3, 2.5), (147.8, 0.5), (148.3, 3.2),
          (148.8, 1.5), (149.3, 2.2), (149.8, 0.0), (150.3, 2.0), (150.8, 3.5), (151.3, 1.2), (151.8, 2.8),
          (152.3, 0.5), (152.8, 1.8), (153.3, 3.2), (153.8, 1.2), (154.3, 2.5), (154.8, 0.2), (155.3, 1.5)]
fp_13 = [(161.5, 4.0), (161.8, 3.0), (162.1, 2.0), (162.4, 1.0), (162.7, 0.0), (163.0, -1.0), (161.6, 2.5),
         (161.9, 1.5), (162.2, 0.5), (162.5, 3.5), (162.8, -0.5), (163.1, 1.8), (161.7, -2.5), (162.3, -3.0),
         (164.0, 3.0), (165.0, 1.0), (166.0, -0.5), (167.0, 2.5), (168.0, 0.5), (169.0, 4.0), (170.0, 1.5),
         (171.0, -1.0), (172.0, 3.0), (173.0, 0.0), (174.0, 2.0), (175.0, 4.5), (176.0, 1.0), (177.0, -0.8),
         (178.0, 2.8), (179.0, 0.5), (180.0, 3.5), (181.0, 1.2), (182.0, -1.5), (183.0, 2.2), (184.0, 0.2),
         (185.0, 3.8), (186.0, 1.5), (187.0, -0.5), (188.0, 2.5), (189.0, 0.8), (190.0, 3.0), (191.0, 1.0),
         (164.5, 5.5), (166.5, 4.0), (168.5, 2.0), (170.5, 3.5), (172.5, 1.5), (174.5, -0.5), (176.5, 3.0),
         (178.5, 1.5), (180.5, -0.2), (182.5, 3.2), (184.5, 1.8), (186.5, 4.0), (188.5, 0.0), (190.5, 2.0),
         (165.5, -1.8), (169.5, -1.5), (173.5, -2.2), (177.5, -2.8), (181.5, -2.0), (185.5, -1.2), (189.5, -1.0),
         (167.5, 6.0), (179.5, 5.5), (171.5, 5.0), (187.5, 4.8)]
fp_13b = [(164.2, 1.8), (164.8, 0.2), (165.3, 2.8), (165.8, 0.5), (166.3, 2.0), (166.8, -1.0), (167.3, 1.2),
          (167.8, 3.5), (168.3, -0.5), (168.8, 1.8), (169.3, 2.8), (169.8, 0.0), (170.3, -0.5), (170.8, 2.2),
          (171.3, 0.8), (171.8, 3.8), (172.3, -0.2), (172.8, 2.5), (173.3, 1.0), (173.8, 3.2), (174.3, 0.8),
          (174.8, 2.8), (175.3, -0.5), (175.8, 2.0), (176.3, -1.2), (176.8, 0.2), (177.3, 3.0), (177.8, 1.0),
          (178.3, -0.5), (178.8, 3.5), (179.3, 2.0), (179.8, -1.0), (180.3, 1.5), (180.8, 2.5), (181.3, 0.0),
          (181.8, 3.5), (182.3, 1.0), (182.8, -0.8), (183.3, 0.8), (183.8, 2.8), (184.3, -0.5), (184.8, 3.0),
          (185.3, 0.5), (185.8, 2.2), (186.3, -0.5), (186.8, 1.0), (187.3, 3.0), (187.8, 0.2), (188.3, 1.5),
          (188.8, 3.0), (189.3, 2.0), (189.8, -0.2), (190.3, 1.2), (190.8, 3.2), (191.2, -0.5)]
fp_14 = [(204.2, 1.2), (204.5, 0.5), (204.8, -0.2), (205.1, -0.8), (204.3, -1.2), (204.6, 1.5), (204.9, 0.2),
         (205.2, -0.5), (204.4, 0.8), (205.0, 1.0), (206.0, 3.0), (206.5, 1.5), (207.0, 0.0), (207.5, -1.5),
         (208.0, -2.5), (208.5, 2.0), (209.0, 0.5), (209.5, -1.0), (210.0, 3.8), (210.5, 1.2), (206.2, -2.0),
         (207.2, 4.2), (208.2, -3.2), (209.2, 2.8), (210.2, -0.5), (206.8, -0.8), (208.8, 1.0), (209.8, 4.5),
         (207.8, -3.5), (205.8, 2.2), (210.8, 0.3), (204.3, 0.2), (204.7, -0.6), (205.0, 0.6), (204.5, -1.0),
         (205.3, 1.2), (206.3, 0.8), (207.3, 2.0), (208.3, 0.2), (209.3, -2.0), (210.3, 2.2), (206.7, -1.8),
         (208.7, 3.5), (209.7, 0.0), (207.7, 1.2), (210.6, -0.8)]
fp_15 = [(228.0, -0.5), (228.5, 0.3), (229.0, -1.0), (229.5, 0.0), (230.0, -0.8), (230.5, 0.8), (231.0, -1.2),
         (231.5, -0.2), (232.0, 0.5), (232.5, -1.5), (233.0, 0.0), (233.5, -0.7), (234.0, 1.0), (234.5, -1.2),
         (235.0, -0.3), (235.5, 0.4), (236.0, -1.0), (236.5, 0.2), (237.0, -0.6), (237.5, 0.9), (238.0, -1.3),
         (238.5, -0.1), (239.0, 0.6), (239.5, -0.9), (240.0, 0.1), (240.5, -0.5), (241.0, 0.7), (241.5, -1.1),
         (242.0, 0.2), (229.2, -2.5), (231.2, 1.5), (233.2, -2.0), (235.2, 2.2), (237.2, -2.2), (239.2, 1.3),
         (241.2, 1.8), (230.2, 1.6), (234.2, -2.6), (236.8, 1.4), (238.8, -1.8), (232.8, 1.2)]
fp_15b = [(228.2, -1.2), (228.8, 0.8), (229.3, -0.5), (229.8, -1.3), (230.3, 0.2), (230.8, -0.3), (231.3, 0.6),
          (231.8, -1.0), (232.3, -0.4), (232.8, 0.2), (233.3, 0.8), (233.8, -1.4), (234.3, 0.3), (234.8, -0.5),
          (235.3, 1.0), (235.8, -0.8), (236.3, 0.8), (236.7, -0.3), (237.3, 0.2), (237.8, -0.9), (238.3, 0.5),
          (238.8, -0.2), (239.3, -1.2), (239.8, 0.4), (240.3, -0.8), (240.8, 0.2), (241.3, -0.4), (241.8, 1.2),
          (234.0, 1.8), (230.0, -2.2), (238.0, 1.5), (236.0, -2.8)]

fc_groups = [fc_1, fc_1b, fc_2, fc_3, fc_3b, fc_4, fc_5, fc_5b, fc_6, fc_6b, fc_7, fc_8, fc_8b, fc_9, fc_10,
             fc_10b, fc_11, fc_11b, fc_12, fc_13, fc_13b]
fp_groups = [fp_1, fp_1b, fp_2, fp_3, fp_3b, fp_4, fp_5, fp_5b, fp_6, fp_6b, fp_7, fp_8, fp_8b, fp_9, fp_10,
             fp_10b, fp_11, fp_12, fp_12b, fp_13, fp_13b, fp_14, fp_15, fp_15b]

fc_ticks = [-20, -15, -10, -5, 0, 5]
fp_ticks = [-5, 0, 5, 10, 15, 20]
sm_ticks = [0, 0.1, 0.2, 0.3]
right_ticks = [0, 0.1, 0.2, 0.3, 0.4]

# ---------------- figure ----------------
FONT = "Liberation Sans, Arial, sans-serif"
INK = "#222222"

fig = go.Figure()

# (a) continuous soil moisture
fig.add_trace(go.Scatter(x=sm_black_day, y=sm_black_val, mode="lines", xaxis="x3", yaxis="y3",
                         line=dict(color="#2b2b2b", width=2.6), connectgaps=False, showlegend=False))
fig.add_trace(go.Scatter(x=sm_gray_day, y=sm_gray_val, mode="lines", xaxis="x3", yaxis="y3",
                         line=dict(color="#a9a9a9", width=2.6), connectgaps=False, showlegend=False))
# (a) 10-day series on right axis
fig.add_trace(go.Scatter(x=ten_day, y=square_val, mode="lines+markers", xaxis="x3", yaxis="y4",
                         line=dict(color="#1a1a1a", width=1.6),
                         marker=dict(symbol="square", size=10,
                                     color=["#bdbdbd" if o else "#1a1a1a" for o in square_open],
                                     line=dict(color="#1a1a1a", width=1)),
                         showlegend=False))
fig.add_trace(go.Scatter(x=ten_day, y=circle_val, mode="lines+markers", xaxis="x3", yaxis="y4",
                         line=dict(color="#1a1a1a", width=3.5), connectgaps=False,
                         marker=dict(symbol="circle", size=14, color="#c9c9c9",
                                     line=dict(color="#1a1a1a", width=1.6)),
                         showlegend=False))

scatter_marker = dict(symbol="circle", size=9, color="#555555", opacity=0.9,
                      line=dict(color="#1c1c1c", width=1.2))
fc_x = [p[0] for g in fc_groups for p in g]
fc_y = [p[1] for g in fc_groups for p in g]
fp_x = [p[0] for g in fp_groups for p in g]
fp_y = [p[1] for g in fp_groups for p in g]
fig.add_trace(go.Scatter(x=fc_x, y=fc_y, mode="markers", xaxis="x2", yaxis="y2",
                         marker=scatter_marker, showlegend=False))
fig.add_trace(go.Scatter(x=fp_x, y=fp_y, mode="markers", xaxis="x", yaxis="y",
                         marker=scatter_marker, showlegend=False))

# period boxes
shapes = []
for s, e in zip(period_start, period_end):
    shapes.append(dict(type="rect", xref="x", yref="paper", x0=s, x1=e, y0=-0.05, y1=1.043,
                       fillcolor="#efefef", line=dict(color="#bdbdbd", width=1.6), layer="below"))
# page texture strips (border of the slide)
shapes.append(dict(type="rect", xref="paper", yref="paper", x0=-0.31, x1=1.08, y0=1.0735, y1=1.095,
                   fillcolor="#d9c9a0", line=dict(width=0), layer="below"))
shapes.append(dict(type="rect", xref="paper", yref="paper", x0=-0.31, x1=-0.2855, y0=-0.03, y1=1.095,
                   fillcolor="#d4c394", line=dict(width=0), layer="below"))
# legend strokes beside the soil-moisture title
shapes.append(dict(type="line", xref="paper", yref="paper", x0=-0.1838, x1=-0.1838, y0=0.6754, y1=0.7126,
                   line=dict(color="#a9a9a9", width=4)))
shapes.append(dict(type="line", xref="paper", yref="paper", x0=-0.1688, x1=-0.1688, y0=0.6746, y1=0.7058,
                   line=dict(color="#1a1a1a", width=4)))


def note(x, y, text, size=31, xref="paper", angle=0):
    return dict(x=x, y=y, xref=xref, yref="paper", text=text, showarrow=False, textangle=angle,
                xanchor="center", yanchor="middle", font=dict(size=size, color=INK, family=FONT))


annotations = [note((s + e) / 2 - 1.5, 1.018, n, size=33, xref="x")
               for n, s, e in zip(period_names, period_start, period_end)]
annotations += [
    note(-0.163, 1.018, "Periods:", size=36),
    note(0.059, 0.970, "(a)"),
    note(0.059, 0.636, "(b)"),
    note(0.059, 0.296, "(c)"),
    note(-0.172, 0.8225, "Soil moisture", angle=-90),
    note(-0.118, 0.820, "0-10 cm (Vol %)", angle=-90),
    note(-0.147, 0.509, "FC (µmol m<sup>-2</sup> s<sup>-1</sup>)", angle=-90),
    note(-0.143, 0.183, "FP (µmol m<sup>-2</sup> s<sup>-1</sup>)", angle=-90),
]

tickfont = dict(size=31, color=INK, family=FONT)
xcommon = dict(range=[0, 270], dtick=30, tick0=0, showticklabels=False, ticks="inside", ticklen=8,
               tickwidth=1.6, tickcolor=INK, showline=True, linecolor=INK, linewidth=2,
               showgrid=False, zeroline=False, automargin=False)
ycommon = dict(ticks="outside", ticklen=7, tickwidth=1.6, tickcolor=INK, showline=True, linecolor=INK,
               linewidth=2, showgrid=False, zeroline=False, tickfont=tickfont, automargin=False,
               ticklabeloverflow="allow")


def labels(vals):
    return ["%g" % v for v in vals]


d1, d2 = 0.3339, 0.6678
fig.update_layout(
    width=1189, height=1301,
    margin=dict(l=262, r=62, t=101, b=20, autoexpand=False),
    paper_bgcolor="white", plot_bgcolor="rgba(0,0,0,0)",
    font=dict(family=FONT, color=INK),
    showlegend=False,
    xaxis=dict(domain=[0, 1], anchor="y", mirror="allticks", **xcommon),
    xaxis2=dict(domain=[0, 1], anchor="y2", matches="x", mirror="allticks", **xcommon),
    xaxis3=dict(domain=[0, 1], anchor="y3", matches="x", mirror=True, **xcommon),
    yaxis=dict(domain=[0, d1], anchor="x", range=[-5, 25], tickvals=fp_ticks, ticktext=labels(fp_ticks),
               mirror=True, **ycommon),
    yaxis2=dict(domain=[d1, d2], anchor="x2", range=[-20, 10], tickvals=fc_ticks, ticktext=labels(fc_ticks),
                mirror=True, **ycommon),
    yaxis3=dict(domain=[d2, 1], anchor="x3", range=[0, 0.3], tickvals=sm_ticks, ticktext=labels(sm_ticks),
                **ycommon),
    yaxis4=dict(overlaying="y3", anchor="x3", side="right", range=[0, 0.4], tickvals=right_ticks,
                ticktext=labels(right_ticks), **ycommon),
    shapes=shapes,
    annotations=annotations,
)

fig.write_html("out.html", config={"responsive": False})
